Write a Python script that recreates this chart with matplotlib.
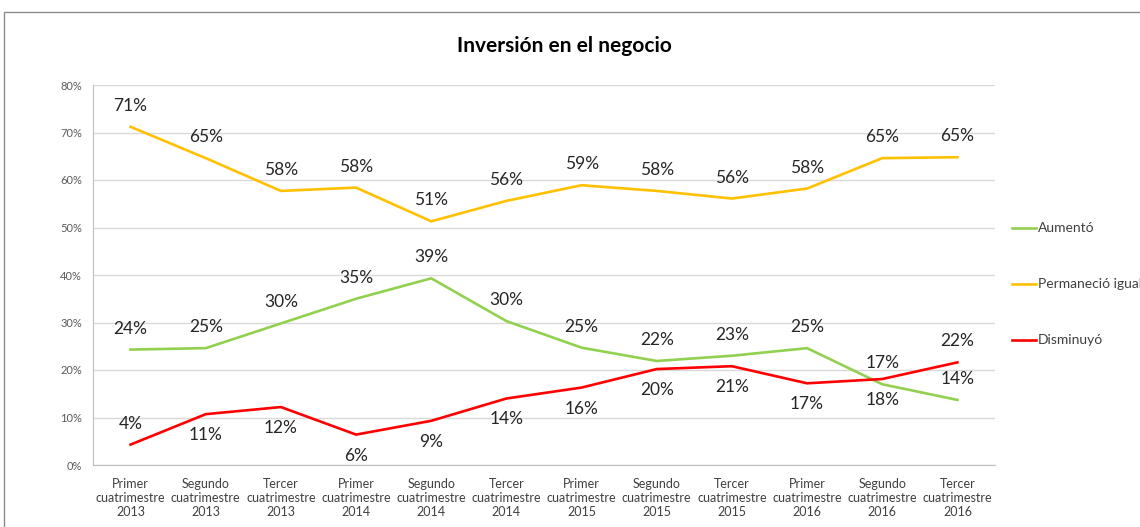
import matplotlib
matplotlib.use("Agg")
import matplotlib.pyplot as plt
from matplotlib.lines import Line2D
from matplotlib.patches import Rectangle

plt.rcParams['font.family'] = ['Lato', 'DejaVu Sans']

categories = [
    "Primer\ncuatrimestre\n2013", "Segundo\ncuatrimestre\n2013", "Tercer\ncuatrimestre\n2013",
    "Primer\ncuatrimestre\n2014", "Segundo\ncuatrimestre\n2014", "Tercer\ncuatrimestre\n2014",
    "Primer\ncuatrimestre\n2015", "Segundo\ncuatrimestre\n2015", "Tercer\ncuatrimestre\n2015",
    "Primer\ncuatrimestre\n2016", "Segundo\ncuatrimestre\n2016", "Tercer\ncuatrimestre\n2016",
]
aumento = [24.3, 24.6, 29.8, 35.0, 39.3, 30.3, 24.7, 21.9, 23.0, 24.6, 17.0, 13.7]
permanecio = [71.2, 64.6, 57.7, 58.4, 51.3, 55.6, 58.9, 57.7, 56.1, 58.2, 64.6, 64.8]
disminuyo = [4.3, 10.7, 12.2, 6.4, 9.3, 14.0, 16.3, 20.2, 20.8, 17.2, 18.1, 21.6]

series_names = ["Aumentó", "Permaneció igual", "Disminuyó"]
colors = ["#92D050", "#FFC000", "#FF0000"]
# label placement: +1 above, -1 below
aumento_pos = [1] * 12
permanecio_pos = [1] * 12
disminuyo_pos = [1, -1, -1, -1, -1, -1, -1, -1, -1, -1, -1, 1]

fig = plt.figure(figsize=(11.4, 5.27), dpi=100)
# chart frame
fig.patches.append(Rectangle((4 / 1140, -0.1), 1.2, (527 - 12) / 527 + 0.1,
                             transform=fig.transFigure, fill=False,
                             edgecolor="#8c8c8c", linewidth=1.0))

ax = fig.add_axes([93 / 1140, 1 - 465 / 527, (995 - 93) / 1140, (465 - 85) / 527])

x = list(range(len(categories)))
all_series = [aumento, permanecio, disminuyo]
all_pos = [aumento_pos, permanecio_pos, disminuyo_pos]
for vals, col, pos in zip(all_series, colors, all_pos):
    ax.plot(x, vals, color=col, linewidth=1.9, solid_joinstyle="round", zorder=3)
    for xi, v, p in zip(x, vals, pos):
        ax.annotate(f"{round(v):d}%", (xi, v), xytext=(0, 21 * p),
                    textcoords="offset pixels", ha="center", va="center",
                    fontsize=12.5, color="#262626", zorder=4)

ax.set_xlim(-0.5, len(categories) - 0.5)
ax.set_ylim(0, 80)
ax.set_yticks(range(0, 81, 10))
ax.set_yticklabels([f"{t}%" for t in range(0, 81, 10)], fontsize=8, color="#595959")
ax.set_xticks(x)
ax.set_xticklabels(categories, fontsize=9, color="#404040", linespacing=1.2)
ax.tick_params(axis="both", length=0)
ax.tick_params(axis="x", pad=9)
ax.tick_params(axis="y", pad=8)
ax.grid(axis="y", color="#D9D9D9", linewidth=1.0, zorder=0)
ax.set_axisbelow(True)
for s in ["top", "right"]:
    ax.spines[s].set_visible(False)
ax.spines["left"].set_color("#BFBFBF")
ax.spines["bottom"].set_color("#BFBFBF")

fig.text(564 / 1140, 1 - 46 / 527, "Inversión en el negocio", ha="center", va="center",
         fontsize=15, fontweight="bold", color="#000000")

legend_y = [228, 284, 340]
for name, col, yy in zip(series_names, colors, legend_y):
    fig.add_artist(Line2D([1012 / 1140, 1036 / 1140], [1 - yy / 527] * 2,
                          transform=fig.transFigure, color=col, linewidth=1.9))
    fig.text(1038 / 1140, 1 - yy / 527, name, ha="left", va="center",
             fontsize=10, color="#404040")

fig.savefig("out.png", dpi=100)
